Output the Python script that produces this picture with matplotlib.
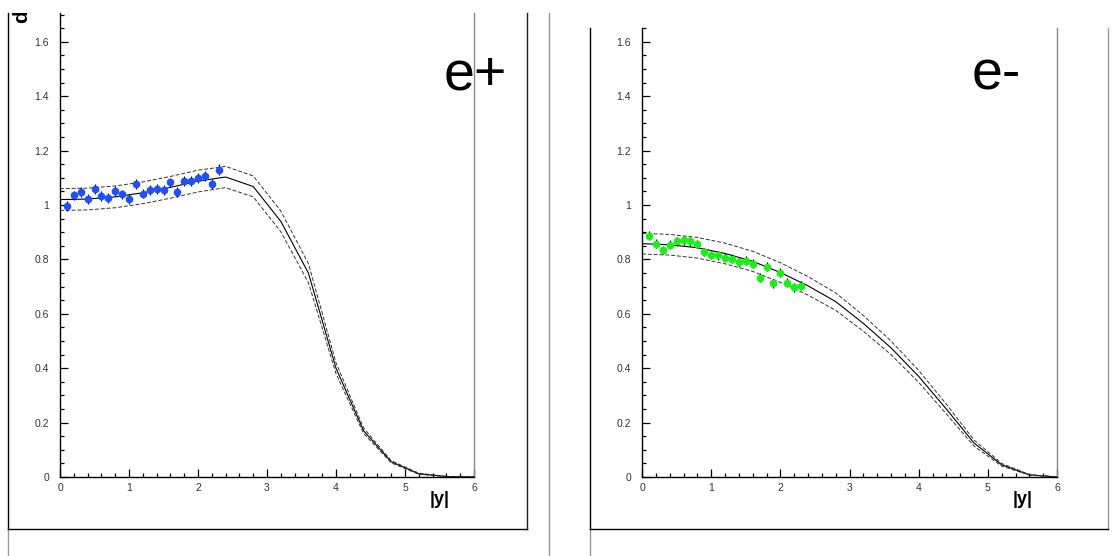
import numpy as np
import matplotlib
matplotlib.use('Agg')
import matplotlib.pyplot as plt
from matplotlib.lines import Line2D
from matplotlib.patches import Rectangle
from matplotlib.ticker import MultipleLocator, FuncFormatter

plt.rcParams['font.family'] = ['Liberation Sans', 'DejaVu Sans']

# =====================================================================
# Data: measured points and theory curves (with uncertainty band)
# =====================================================================

y_pts = [0.1, 0.2, 0.3, 0.4, 0.5, 0.6, 0.7, 0.8, 0.9, 1.0, 1.1, 1.2,
         1.3, 1.4, 1.5, 1.6, 1.7, 1.8, 1.9, 2.0, 2.1, 2.2, 2.3]

# e+ measurements
pos_val = [0.995, 1.035, 1.048, 1.021, 1.059, 1.033, 1.026, 1.052, 1.039,
           1.021, 1.078, 1.042, 1.055, 1.060, 1.055, 1.083, 1.049, 1.089,
           1.087, 1.098, 1.107, 1.078, 1.130]
pos_err = [0.018, 0.018, 0.018, 0.018, 0.018, 0.018, 0.018, 0.018, 0.018,
           0.018, 0.018, 0.018, 0.018, 0.018, 0.018, 0.018, 0.018, 0.018,
           0.018, 0.018, 0.018, 0.018, 0.020]

# e- measurements
neg_val = [0.887, 0.858, 0.835, 0.854, 0.867, 0.870, 0.866, 0.857, 0.827,
           0.816, 0.815, 0.807, 0.803, 0.790, 0.796, 0.785, 0.733, 0.773,
           0.712, 0.751, 0.715, 0.697, 0.703]
neg_err = [0.016, 0.016, 0.016, 0.016, 0.016, 0.016, 0.016, 0.016, 0.016,
           0.016, 0.016, 0.016, 0.016, 0.016, 0.016, 0.016, 0.016, 0.016,
           0.016, 0.016, 0.016, 0.016, 0.016]

# theory grid in |y|
y_th = [0.0, 0.4, 0.8, 1.2, 1.6, 2.0, 2.4, 2.8, 3.2, 3.6, 4.0, 4.4, 4.8,
        5.2, 5.6, 6.0]

pos_th = [1.020, 1.022, 1.030, 1.045, 1.065, 1.088, 1.103, 1.068, 0.940,
          0.750, 0.400, 0.170, 0.056, 0.012, 0.002, 0.0]
pos_hi = [1.060, 1.062, 1.070, 1.085, 1.105, 1.128, 1.142, 1.107, 0.978,
          0.785, 0.420, 0.180, 0.060, 0.014, 0.002, 0.0]
pos_lo = [0.980, 0.982, 0.990, 1.005, 1.025, 1.048, 1.064, 1.030, 0.902,
          0.715, 0.380, 0.160, 0.052, 0.010, 0.001, 0.0]

neg_th = [0.858, 0.854, 0.843, 0.822, 0.793, 0.752, 0.703, 0.645, 0.565,
          0.475, 0.370, 0.250, 0.125, 0.045, 0.008, 0.0]
neg_hi = [0.896, 0.892, 0.881, 0.860, 0.830, 0.788, 0.737, 0.677, 0.594,
          0.500, 0.392, 0.268, 0.136, 0.050, 0.009, 0.0]
neg_lo = [0.820, 0.816, 0.805, 0.784, 0.756, 0.716, 0.669, 0.613, 0.536,
          0.450, 0.348, 0.232, 0.114, 0.040, 0.007, 0.0]

W, H = 1118, 556


def fx(x):
    return x / W


def fy(y):
    return 1 - y / H


fig = plt.figure(figsize=(W / 100, H / 100), dpi=100)


def make_panel(left, top, right, bottom, ymax):
    ax = fig.add_axes([fx(left), fy(bottom), fx(right - left), (bottom - top) / H])
    ax.set_xlim(0, 6)
    ax.set_ylim(0, ymax)
    ax.spines['top'].set_visible(False)
    ax.spines['right'].set_color('#888888')
    ax.spines['right'].set_linewidth(1.0)
    for s in ('left', 'bottom'):
        ax.spines[s].set_color('black')
        ax.spines[s].set_linewidth(1.0)
    ax.xaxis.set_major_locator(MultipleLocator(1))
    ax.xaxis.set_minor_locator(MultipleLocator(0.2))
    ax.yaxis.set_major_locator(MultipleLocator(0.2))
    ax.yaxis.set_minor_locator(MultipleLocator(0.05))
    ax.yaxis.set_major_formatter(FuncFormatter(lambda v, p: f'{v:g}'))
    ax.tick_params(which='both', direction='in', top=False, right=False,
                   color='black', width=0.9, labelsize=7.5, labelcolor='#333333')
    ax.tick_params(axis='y', which='major', length=6, pad=8)
    ax.tick_params(axis='y', which='minor', length=3)
    ax.tick_params(axis='x', which='major', length=6, pad=4)
    ax.tick_params(axis='x', which='minor', length=3)
    ax.text(5.5, -0.05, '|y|', ha='center', va='top', fontsize=13,
            fontweight='bold', clip_on=False)
    return ax


def draw(ax, vals, errs, th, hi, lo, color):
    ax.plot(y_th, th, color='black', lw=0.8)
    ax.plot(y_th, hi, color='#333333', lw=0.7, ls=(0, (4, 2)))
    ax.plot(y_th, lo, color='#333333', lw=0.7, ls=(0, (4, 2)))
    ax.errorbar(y_pts, vals, yerr=errs, fmt='o', color=color, ms=4.5,
                mec=color, ecolor='black', elinewidth=0.9, capsize=0, zorder=3)


# =====================================================================
# e+ panel
# =====================================================================
ax1 = make_panel(60, 13, 474, 477, 1.706)
draw(ax1, pos_val, pos_err, pos_th, pos_hi, pos_lo, '#1f4fff')
fig.text(fx(444), fy(90), 'e+', fontsize=40, ha='left', va='baseline')

# =====================================================================
# e- panel
# =====================================================================
ax2 = make_panel(642, 28, 1057, 477, 1.651)
draw(ax2, neg_val, neg_err, neg_th, neg_hi, neg_lo, '#18f018')
fig.text(fx(972), fy(90), 'e-', fontsize=40, ha='left', va='baseline')

# y-axis title, cut off at the top of the pad
clip = Rectangle((0, 0), 1, fy(13), transform=fig.transFigure, visible=False)
fig.add_artist(clip)
t = fig.text(fx(31), fy(23), 'dσ/d|y|', rotation=90, ha='right', va='bottom',
             fontsize=15, fontweight='bold')
t.set_clip_path(clip)

# pad frames
def fline(xs, ys, color='black', lw=1.0):
    fig.add_artist(Line2D([fx(x) for x in xs], [fy(y) for y in ys],
                          transform=fig.transFigure, color=color, lw=lw))


fline([8, 8], [13, 529])
fline([8, 8], [529, 556], color='#999999')
fline([527, 527], [13, 529], color='#222222')
fline([8, 527], [529, 529])
fline([549, 549], [13, 556], color='#999999')

fline([590, 590], [28, 529])
fline([590, 590], [529, 556], color='#999999')
fline([1108, 1108], [28, 529], color='#999999')
fline([590, 1108], [529, 529])

fig.savefig('out.png', dpi=100)
